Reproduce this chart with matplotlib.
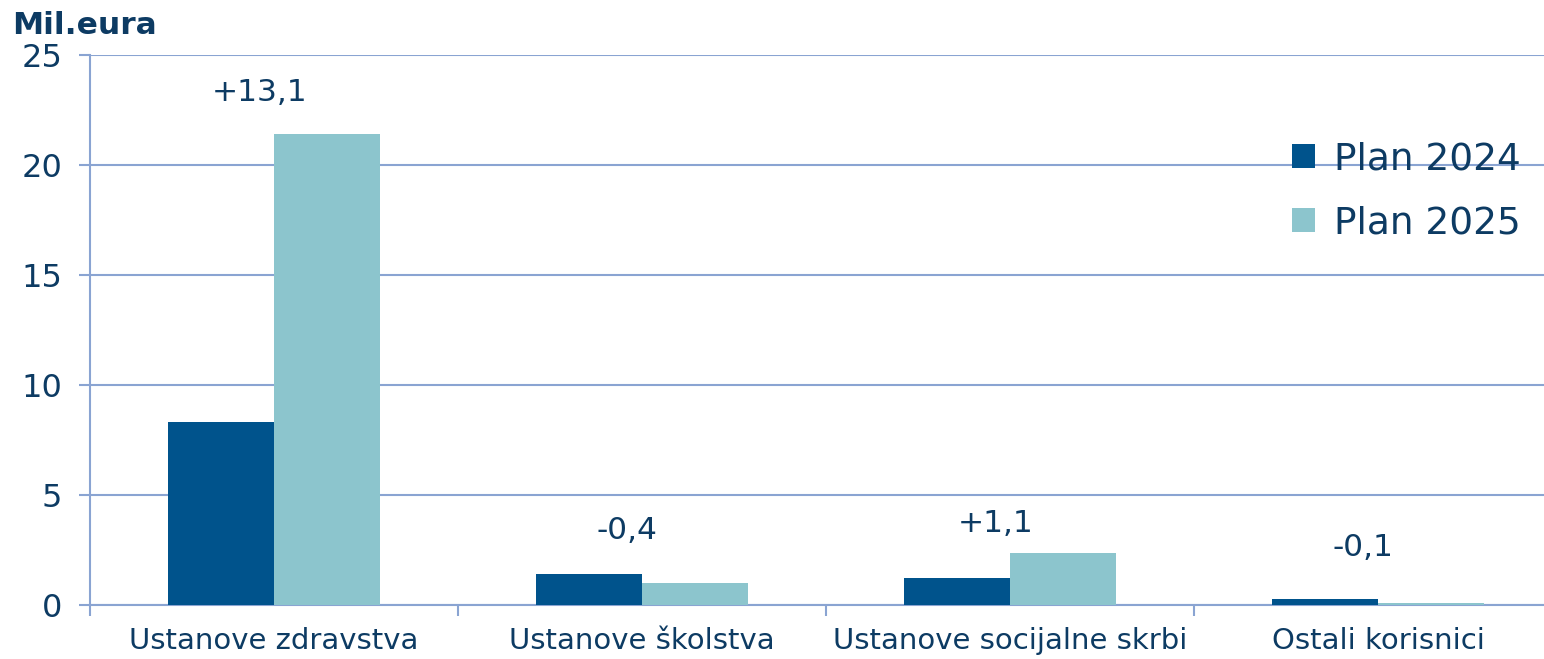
import matplotlib.pyplot as plt
from matplotlib.ticker import FixedLocator, NullFormatter

categories = ["Ustanove zdravstva", "Ustanove školstva",
              "Ustanove socijalne skrbi", "Ostali korisnici"]
plan_2024 = [8.3, 1.4, 1.25, 0.26]
plan_2025 = [21.4, 1.0, 2.36, 0.09]
changes = ["+13,1", "-0,4", "+1,1", "-0,1"]
change_y = [23.3, 3.4, 3.7, 2.6]

TXT = "#0d3b63"
GRID = "#8aa4d2"
C24 = "#00538c"
C25 = "#8cc5cd"

plt.rcParams["font.family"] = ["DejaVu Sans"]

fig = plt.figure(figsize=(15.44, 6.59), dpi=100)
ax = fig.add_axes([90 / 1544, 54 / 659, 1 - 90 / 1544, 550 / 659])

x = list(range(len(categories)))
w = 0.287
ax.bar(x, plan_2024, width=-w, align="edge", color=C24, label="Plan 2024", zorder=3)
ax.bar(x, plan_2025, width=w, align="edge", color=C25, label="Plan 2025", zorder=3)

for i, (lbl, yy) in enumerate(zip(changes, change_y)):
    ax.text(i - 0.04, yy, lbl, ha="center", va="center", fontsize=22.5, color=TXT)

ax.set_ylim(0, 25)
ax.set_xlim(-0.5, 3.451)
ax.set_yticks([0, 5, 10, 15, 20, 25])
ax.yaxis.grid(True, color=GRID, linewidth=1.5, zorder=0)
ax.tick_params(axis="y", colors=GRID, length=8, width=1.5, labelsize=23,
               labelcolor=TXT, pad=12)

ax.xaxis.set_major_locator(FixedLocator([-0.5, 0.5, 1.5, 2.5]))
ax.xaxis.set_major_formatter(NullFormatter())
ax.xaxis.set_minor_locator(FixedLocator(x))
ax.set_xticklabels(categories, minor=True)
ax.tick_params(axis="x", which="major", colors=GRID, length=8, width=1.5)
ax.tick_params(axis="x", which="minor", length=0, labelsize=21,
               labelcolor=TXT, pad=16)

for s in ["top", "right"]:
    ax.spines[s].set_visible(False)
for s in ["left", "bottom"]:
    ax.spines[s].set_color(GRID)
    ax.spines[s].set_linewidth(1.5)

fig.text(12 / 1544, 1 - 26 / 659, "Mil.eura", fontsize=22.5, fontweight="bold",
         color=TXT, ha="left", va="center")

leg = ax.legend(loc="upper right", bbox_to_anchor=(1.007, 0.905), frameon=False,
                fontsize=27, handlelength=0.6, handleheight=0.6,
                handletextpad=0.5, labelspacing=0.75)
for t in leg.get_texts():
    t.set_color(TXT)

fig.savefig("out.png", dpi=100)
